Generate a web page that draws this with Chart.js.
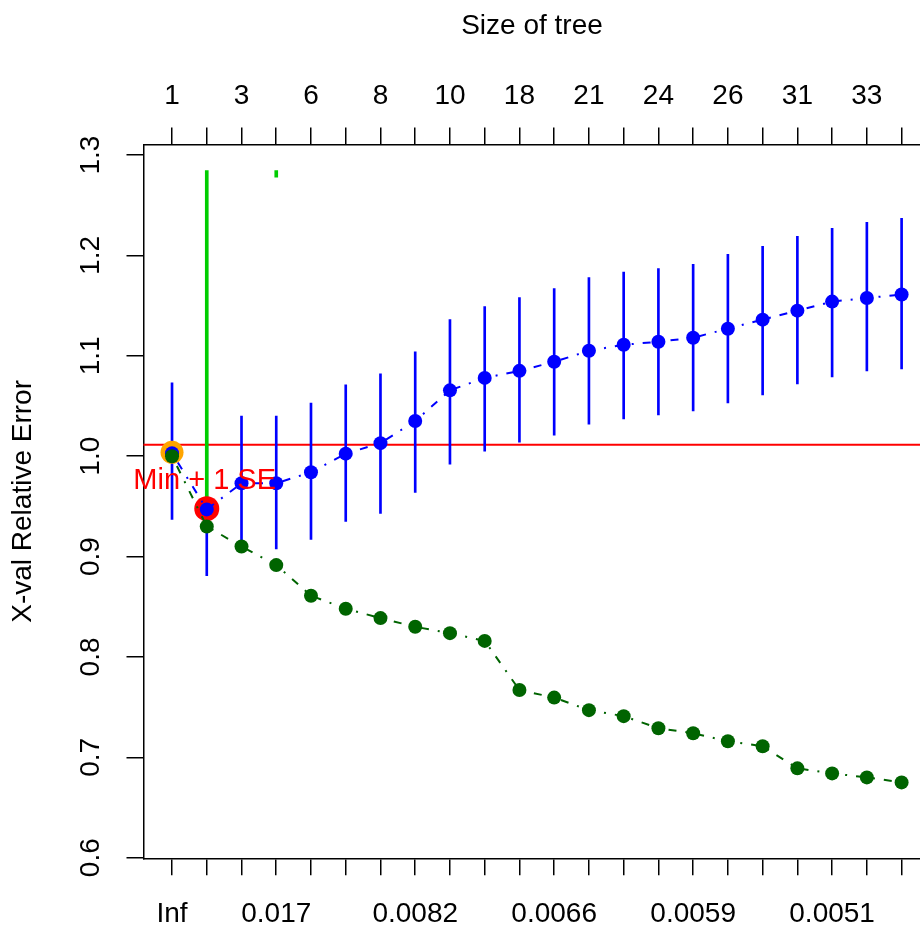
<!DOCTYPE html>
<html><head><meta charset="utf-8">
<script src="https://cdn.jsdelivr.net/npm/chart.js@4/dist/chart.umd.min.js"></script>
<style>html,body{margin:0;padding:0;background:#fff;overflow:hidden;width:920px;height:928px}#wrap{width:933px;height:928px;position:relative}</style>
</head><body><div id="wrap"><canvas id="c"></canvas></div>
<script>
// ---- data ----
const xIndex = [0,1,2,3,4,5,6,7,8,9,10,11,12,13,14,15,16,17,18,19,20,21];
const treeSizeLabels = ['1','','3','','6','','8','','10','','18','','21','','24','','26','','31','','33',''];
const cpLabels = ['Inf','','','0.017','','','','0.0082','','','','0.0066','','','','0.0059','','','','0.0051','',''];
const xerrorMean = [1.003,0.947,0.973,0.973,0.984,1.0025,1.013,1.035,1.0656,1.078,1.085,1.094,1.105,1.111,1.114,1.118,1.127,1.136,1.145,1.154,1.1576,1.161];
const xerrorHigh = [1.073,1.013,1.040,1.040,1.053,1.071,1.082,1.104,1.136,1.149,1.158,1.167,1.178,1.1835,1.187,1.191,1.201,1.209,1.219,1.227,1.233,1.237];
const xerrorLow  = [0.937,0.881,0.906,0.9075,0.917,0.935,0.943,0.964,0.992,1.005,1.014,1.021,1.032,1.037,1.041,1.045,1.053,1.061,1.072,1.079,1.085,1.087];
const relError   = [1.000,0.930,0.910,0.8915,0.861,0.848,0.8387,0.830,0.8237,0.816,0.767,0.7595,0.747,0.741,0.729,0.724,0.716,0.711,0.689,0.684,0.680,0.675];
const greenSegX    = [1,3];
const greenSegLow  = [0.947,1.278];
const greenSegHigh = [1.2846,1.2846];
const minPlusSE = 1.0115;
const rootPoint = {x:0, y:1.0038};
const bestPoint = {x:1, y:0.9477};
const yTicks = [0.6,0.7,0.8,0.9,1.0,1.1,1.2,1.3];
const yTickLabels = ['0.6','0.7','0.8','0.9','1.0','1.1','1.2','1.3'];
const annotText = 'Min + 1 SE';
const annotPos = {x:0.94, y:0.9756};

// ---- options ----
const xMin = -0.821, xMax = 21.544, yMin = 0.5994, yMax = 1.3105;
const FONT = "'Liberation Sans', Arial, sans-serif";
Chart.defaults.font.family = FONT;
Chart.defaults.color = '#000';

const tickGrid = {display:true, drawOnChartArea:false, drawTicks:true, tickLength:17, color:'#000', lineWidth:1.5, offset:false};
const axBorder = {display:true, color:'#000', width:1.5};

const annotPlugin = {
  id:'annot',
  afterDatasetsDraw(chart){
    const {ctx, scales:{x, y}} = chart;
    ctx.save();
    ctx.font = '29px ' + FONT;
    ctx.fillStyle = '#FF0000';
    ctx.textAlign = 'center';
    ctx.textBaseline = 'middle';
    ctx.fillText(annotText, x.getPixelForValue(annotPos.x), y.getPixelForValue(annotPos.y));
    ctx.restore();
  }
};

new Chart(document.getElementById('c'), {
  type:'line',
  data:{
    datasets:[
      {type:'line', label:'min+1SE', data:[{x:xMin-1,y:minPlusSE},{x:xMax+1,y:minPlusSE}], borderColor:'#FF0000', borderWidth:2, pointRadius:0, order:10},
      {type:'bar', label:'xstd', data:xIndex.map(i=>({x:i, y:[xerrorLow[i], xerrorHigh[i]]})), backgroundColor:'#0000FF', borderWidth:0, barThickness:2, grouped:false, order:9},
      {type:'bar', label:'seg', data:greenSegX.map((v,k)=>({x:v, y:[greenSegLow[k], greenSegHigh[k]]})), backgroundColor:'#00CD00', borderWidth:0, barThickness:3, grouped:false, order:8},
      {type:'scatter', label:'root', data:[rootPoint], pointRadius:11.5, pointBackgroundColor:'#FFA500', pointBorderWidth:0, showLine:false, order:7},
      {type:'scatter', label:'best', data:[bestPoint], pointRadius:12.5, pointBackgroundColor:'#FF0000', pointBorderWidth:0, showLine:false, order:7},
      {type:'line', label:'xerror', data:xIndex.map(i=>({x:i, y:xerrorMean[i]})), borderColor:'#0000FF', borderWidth:2, borderDash:[2,9,8,9], pointRadius:7, pointBackgroundColor:'#0000FF', pointBorderWidth:0, tension:0, order:5},
      {type:'line', label:'rel error', data:xIndex.map(i=>({x:i, y:relError[i]})), borderColor:'#006400', borderWidth:2, borderDash:[2,9,8,9], pointRadius:7, pointBackgroundColor:'#006400', pointBorderWidth:0, tension:0, order:4}
    ]
  },
  options:{
    responsive:true, maintainAspectRatio:false, animation:false, devicePixelRatio:1,
    layout:{padding:0},
    plugins:{legend:{display:false}, tooltip:{enabled:false}},
    scales:{
      x:{type:'linear', position:'bottom', min:xMin, max:xMax, offset:false,
        afterBuildTicks:s=>{s.ticks = xIndex.map(v=>({value:v}));},
        afterFit:s=>{s.height = 69.7;},
        grid:tickGrid, border:axBorder,
        ticks:{autoSkip:false, minRotation:0, maxRotation:0, padding:22.5, color:'#000', font:{size:28}, callback:v=>cpLabels[Math.round(v)] ?? ''}
      },
      x2:{type:'linear', position:'top', min:xMin, max:xMax, offset:false,
        afterBuildTicks:s=>{s.ticks = xIndex.map(v=>({value:v}));},
        afterFit:s=>{s.height = 144.5;},
        grid:tickGrid, border:axBorder,
        ticks:{autoSkip:false, minRotation:0, maxRotation:0, padding:14, color:'#000', font:{size:28}, callback:v=>treeSizeLabels[Math.round(v)] ?? ''},
        title:{display:true, text:'Size of tree', color:'#000', font:{size:28}, padding:{top:9, bottom:0}}
      },
      y:{type:'linear', position:'left', min:yMin, max:yMax,
        afterBuildTicks:s=>{s.ticks = yTicks.map(v=>({value:v}));},
        afterFit:s=>{s.width = 143.5;},
        grid:tickGrid, border:axBorder,
        ticks:{minRotation:90, maxRotation:90, crossAlign:'center', padding:16, color:'#000', font:{size:28}, callback:(v,i)=>yTickLabels[i]},
        title:{display:true, text:'X-val Relative Error', color:'#000', font:{size:28}, padding:{top:6, bottom:0}}
      }
    }
  },
  plugins:[annotPlugin]
});
</script>
</body></html>
